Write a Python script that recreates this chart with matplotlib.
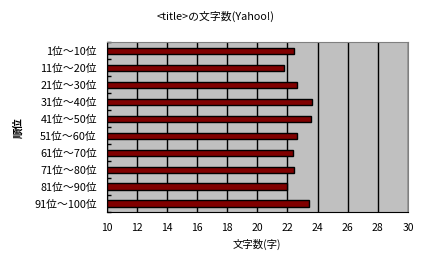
import numpy as np
import matplotlib
matplotlib.use("Agg")
import matplotlib.pyplot as plt

plt.rcParams['font.family'] = ['Noto Sans CJK JP', 'DejaVu Sans']

ranks = ['1位～10位', '11位～20位', '21位～30位', '31位～40位', '41位～50位',
         '51位～60位', '61位～70位', '71位～80位', '81位～90位', '91位～100位']
chars = [22.4, 21.75, 22.6, 23.65, 23.55, 22.6, 22.35, 22.45, 22.0, 23.45]
xticks = [10, 12, 14, 16, 18, 20, 22, 24, 26, 28, 30]

fig = plt.figure(figsize=(4.31, 2.68), dpi=100)
ax = fig.add_axes([0.2476, 0.209, 0.699, 0.633])
ax.set_facecolor('#c0c0c0')

y = np.arange(len(ranks))
ax.barh(y, np.array(chars) - 10, left=10, height=0.36, color='#800000',
        edgecolor='black', linewidth=1, zorder=3)

ax.set_xlim(10, 30)
ax.set_ylim(len(ranks) - 0.5, -0.5)
ax.set_xticks(xticks)
ax.set_xticklabels([str(t) for t in xticks], fontsize=7.5)
ax.set_yticks(y)
ax.set_yticklabels(ranks, fontsize=7.8)
ax.set_yticks(np.arange(len(ranks) + 1) - 0.5, minor=True)
ax.tick_params(axis='y', which='major', length=0, pad=7)
ax.tick_params(axis='y', which='minor', length=3, direction='in', width=1)
ax.tick_params(axis='x', length=0, pad=8)
ax.grid(axis='x', color='black', linewidth=1, zorder=1)
ax.set_axisbelow(True)

for s in ['top', 'right']:
    ax.spines[s].set_color('#808080')
for s in ['left', 'bottom']:
    ax.spines[s].set_color('black')

ax.set_xlabel('文字数(字)', fontsize=7.5, labelpad=4)
ax.set_ylabel('順位', fontsize=7.5, labelpad=8, fontweight='bold')
fig.text(0.5, 0.925, '<title>の文字数(Yahoo!)', ha='center', fontsize=7.8)

fig.savefig('out.png', dpi=100)
